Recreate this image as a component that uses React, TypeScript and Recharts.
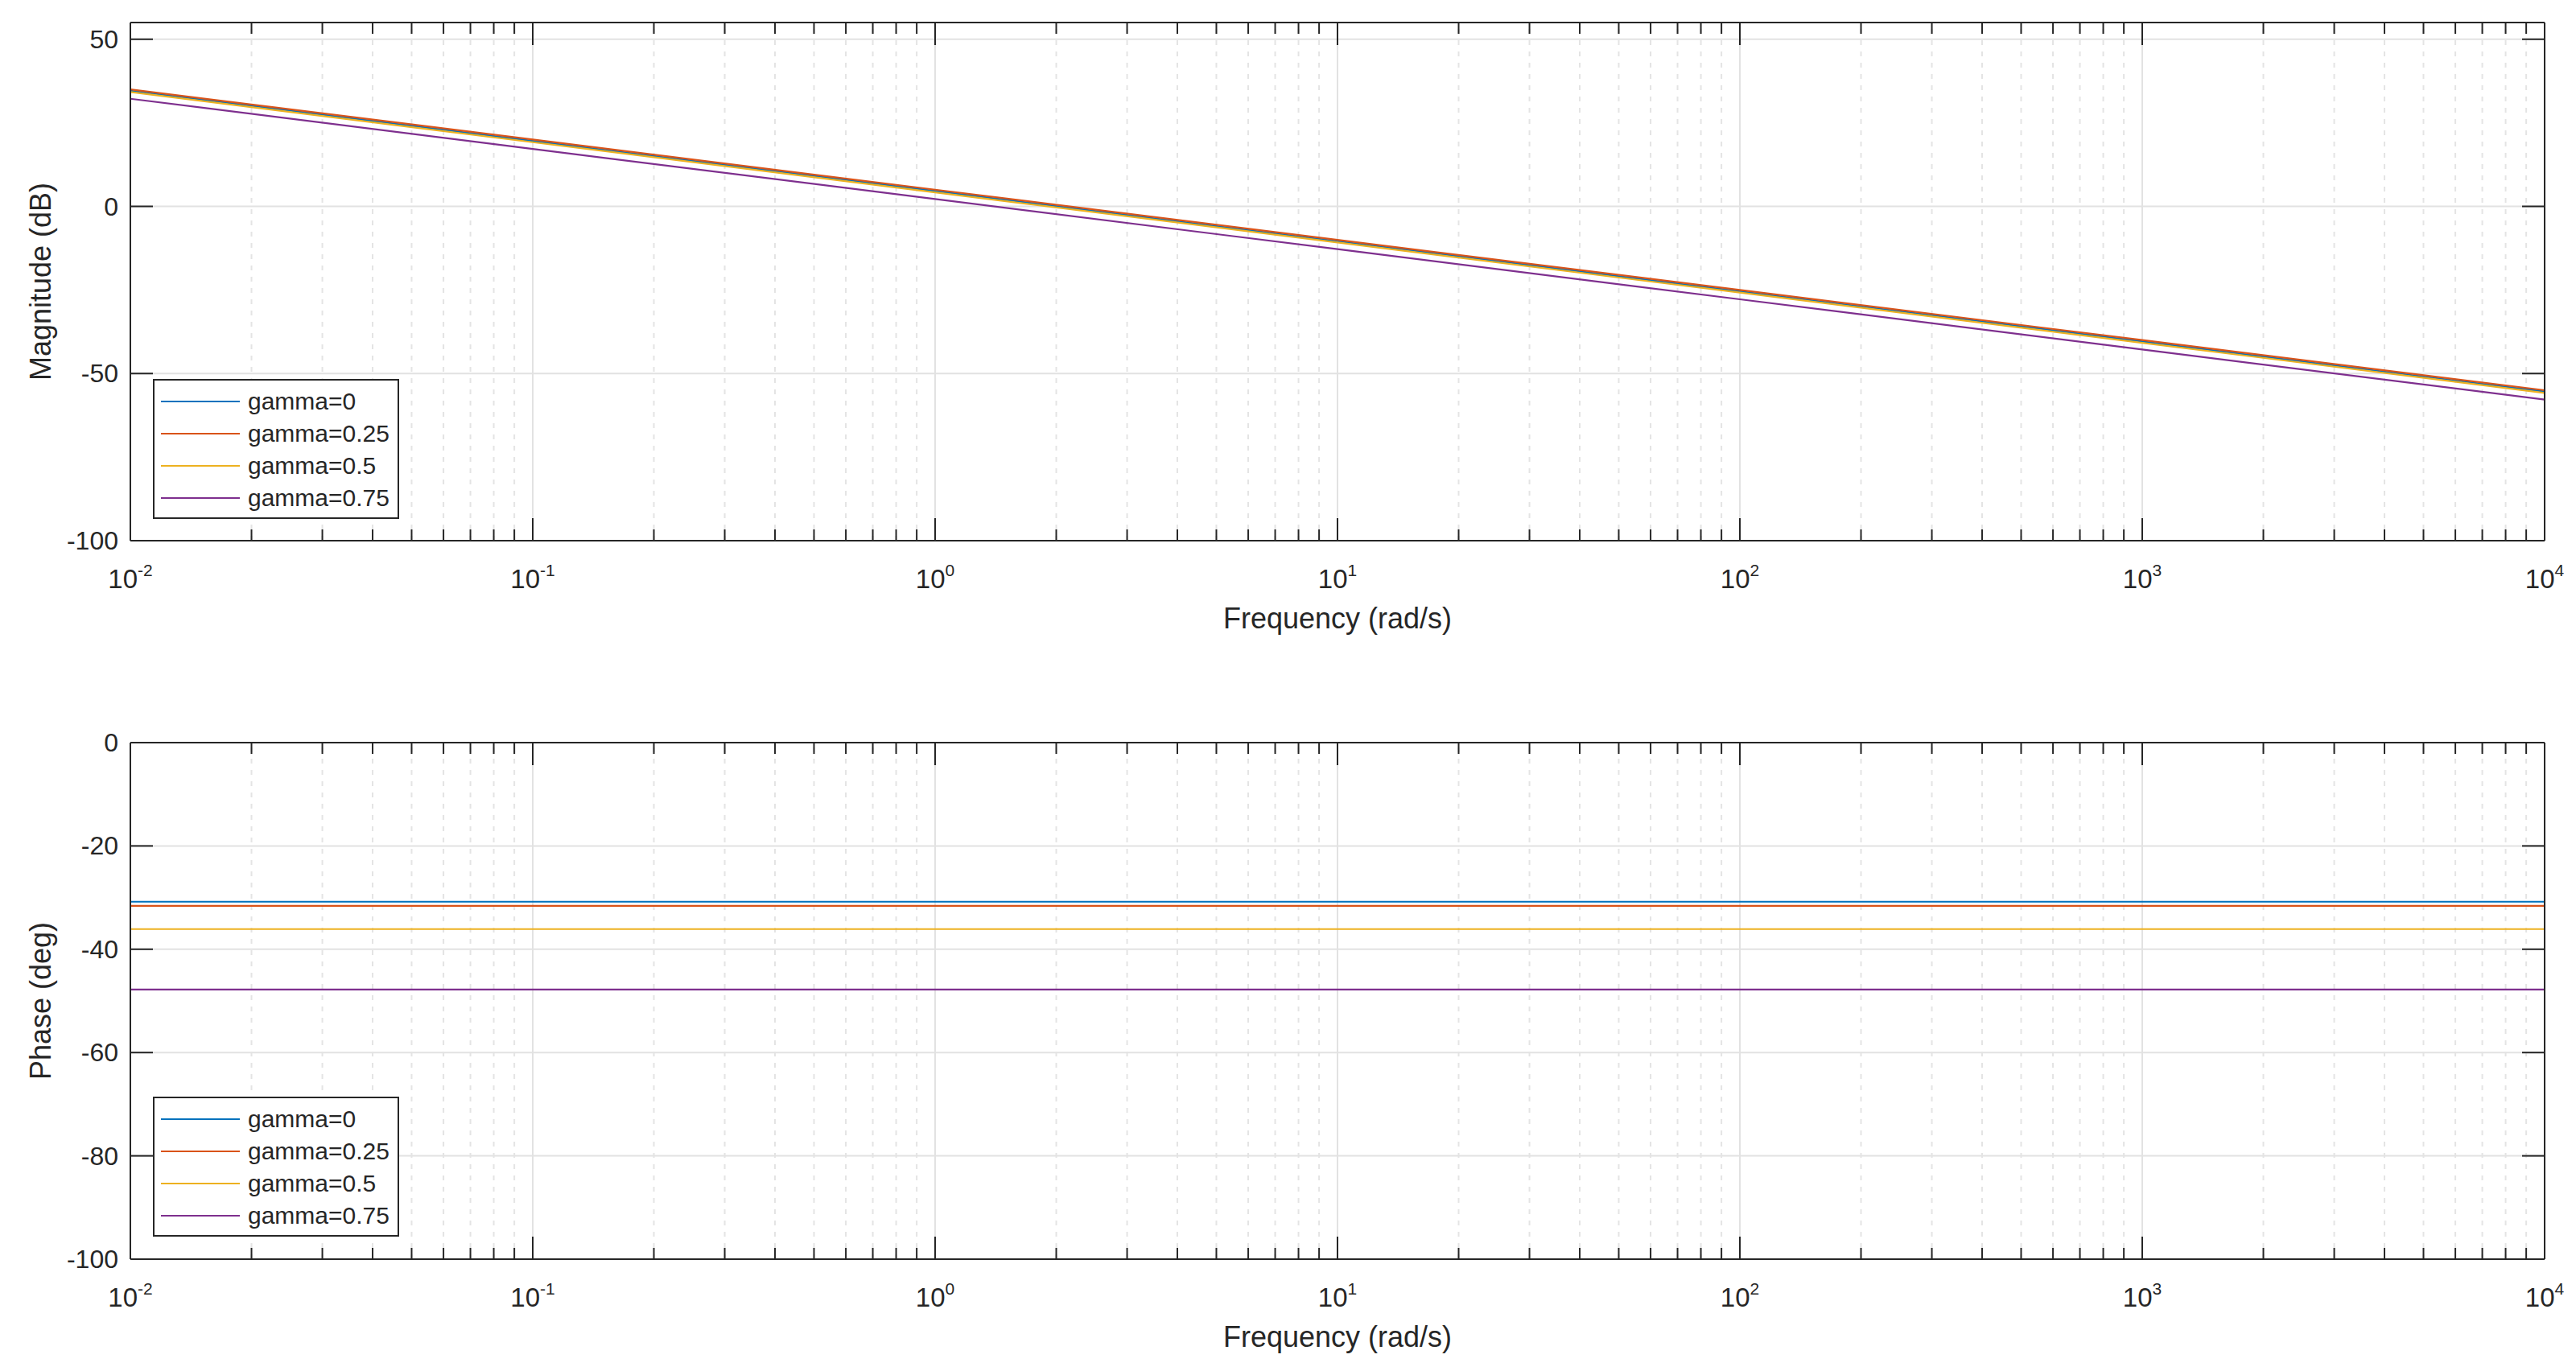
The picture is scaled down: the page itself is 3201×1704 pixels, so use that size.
import { LineChart, Line, XAxis, YAxis, CartesianGrid, ReferenceLine, Legend } from "recharts";

const FONT = '"Liberation Sans", Arial, Helvetica, sans-serif';
const INK = "#262626";

// frequency points (rad/s), one per decade
const freqs = [0.01, 0.1, 1, 10, 100, 1000, 10000];

const seriesKeys = ["g0", "g025", "g05", "g075"];
const seriesNames = ["gamma=0", "gamma=0.25", "gamma=0.5", "gamma=0.75"];
const seriesColors = ["#0072BD", "#D95319", "#EDB120", "#7E2F8E"];

// magnitude (dB)
const magGamma0 = [34.6, 19.6, 4.6, -10.4, -25.4, -40.4, -55.4];
const magGamma025 = [35.0, 20.0, 5.0, -10.0, -25.0, -40.0, -55.0];
const magGamma05 = [34.2, 19.2, 4.2, -10.8, -25.8, -40.8, -55.8];
const magGamma075 = [32.2, 17.2, 2.2, -12.8, -27.8, -42.8, -57.8];

// phase (deg)
const phaseGamma0 = [-30.8, -30.8, -30.8, -30.8, -30.8, -30.8, -30.8];
const phaseGamma025 = [-31.6, -31.6, -31.6, -31.6, -31.6, -31.6, -31.6];
const phaseGamma05 = [-36.1, -36.1, -36.1, -36.1, -36.1, -36.1, -36.1];
const phaseGamma075 = [-47.8, -47.8, -47.8, -47.8, -47.8, -47.8, -47.8];

const magTicks = [-100, -50, 0, 50];
const phaseTicks = [-100, -80, -60, -40, -20, 0];
const decadeTicks = [0.01, 0.1, 1, 10, 100, 1000, 10000];
const minorSteps = [2, 3, 4, 5, 6, 7, 8, 9];

const minorTicks = decadeTicks.slice(0, -1).flatMap((d) => minorSteps.map((m) => d * m));
const allXTicks = [...decadeTicks, ...minorTicks].sort((a, b) => a - b);

const build = (cols: number[][]) =>
  freqs.map((f, i) => {
    const row: any = { f };
    seriesKeys.forEach((k, j) => (row[k] = cols[j][i]));
    return row;
  });

const magData = build([magGamma0, magGamma025, magGamma05, magGamma075]);
const phaseData = build([phaseGamma0, phaseGamma025, phaseGamma05, phaseGamma075]);

const isDecade = (v: number) => Math.abs(Math.log10(v) - Math.round(Math.log10(v))) < 1e-6;

const BottomTick = (props: any) => {
  const { x, y, payload } = props;
  const major = isDecade(payload.value);
  const len = major ? 28 : 14;
  return (
    <g>
      <line x1={x} x2={x} y1={y} y2={y - len} stroke={INK} strokeWidth={2} />
      {major && (
        <text x={x} y={y + 59} textAnchor="middle" fontSize={33} fill={INK} fontFamily={FONT}>
          <tspan>10</tspan>
          <tspan dy={-15} fontSize={21}>
            {Math.round(Math.log10(payload.value))}
          </tspan>
        </text>
      )}
    </g>
  );
};

const TopTick = (props: any) => {
  const { x, y, payload } = props;
  const len = isDecade(payload.value) ? 28 : 14;
  return <line x1={x} x2={x} y1={y} y2={y + len} stroke={INK} strokeWidth={2} />;
};

const LeftTick = (props: any) => {
  const { x, y, payload } = props;
  return (
    <g>
      <line x1={x} x2={x + 28} y1={y} y2={y} stroke={INK} strokeWidth={2} />
      <text x={x - 15} y={y} textAnchor="end" dominantBaseline="central" fontSize={32} fill={INK} fontFamily={FONT}>
        {payload.value}
      </text>
    </g>
  );
};

const RightTick = (props: any) => {
  const { x, y } = props;
  return <line x1={x} x2={x - 28} y1={y} y2={y} stroke={INK} strokeWidth={2} />;
};

const yLabel = (text: string) => (props: any) => {
  const { viewBox } = props;
  const cx = viewBox.x + viewBox.width - 112;
  const cy = viewBox.y + viewBox.height / 2;
  return (
    <text
      x={cx}
      y={cy}
      transform={`rotate(-90 ${cx} ${cy})`}
      textAnchor="middle"
      dominantBaseline="central"
      fontSize={36}
      fill={INK}
      fontFamily={FONT}
    >
      {text}
    </text>
  );
};

const LegendBox = (props: any) => {
  const { payload } = props;
  return (
    <div
      style={{
        width: 306,
        height: 174,
        border: `2px solid ${INK}`,
        background: "#fff",
        boxSizing: "border-box",
        position: "relative",
        fontFamily: FONT,
        fontSize: 30,
        color: INK,
      }}
    >
      {(payload || []).map((p: any, i: number) => (
        <div
          key={p.value}
          style={{ position: "absolute", left: 0, top: 6 + i * 40, height: 40, display: "flex", alignItems: "center" }}
        >
          <div style={{ marginLeft: 8, width: 98, height: 0, borderTop: `2px solid ${p.color}` }} />
          <span style={{ marginLeft: 10, whiteSpace: "nowrap", lineHeight: "40px" }}>{p.value}</span>
        </div>
      ))}
    </div>
  );
};

interface PanelProps {
  data: any[];
  yDomain: [number, number];
  yTicks: number[];
  yTitle: string;
  height: number;
  top: number;
  marginTop: number;
  marginBottom: number;
  legendTop: number;
}

function BodePanel({ data, yDomain, yTicks, yTitle, height, top, marginTop, marginBottom, legendTop }: PanelProps) {
  return (
    <div style={{ position: "absolute", left: 0, top, width: 3201, height }}>
      <LineChart
        width={3201}
        height={height}
        data={data}
        margin={{ top: marginTop, right: 38, bottom: marginBottom, left: 82 }}
      >
        <CartesianGrid vertical={false} stroke="#e2e2e2" strokeWidth={2} />
        {minorTicks.map((v) => (
          <ReferenceLine key={"m" + v} x={v} stroke="#e4e4e4" strokeWidth={2} strokeDasharray="6 8" />
        ))}
        {decadeTicks.slice(1, -1).map((v) => (
          <ReferenceLine key={"d" + v} x={v} stroke="#e2e2e2" strokeWidth={2} />
        ))}
        <XAxis
          dataKey="f"
          type="number"
          scale="log"
          domain={[0.01, 10000]}
          allowDataOverflow
          ticks={allXTicks}
          interval={0}
          height={1}
          tickSize={0}
          tickMargin={0}
          tickLine={false}
          tick={<BottomTick />}
          axisLine={{ stroke: INK, strokeWidth: 2 }}
          label={{ value: "Frequency (rad/s)", position: "bottom", offset: 82, fontSize: 36, fill: INK, fontFamily: FONT }}
        />
        <XAxis
          xAxisId="t"
          orientation="top"
          dataKey="f"
          type="number"
          scale="log"
          domain={[0.01, 10000]}
          allowDataOverflow
          ticks={allXTicks}
          interval={0}
          height={1}
          tickSize={0}
          tickMargin={0}
          tickLine={false}
          tick={<TopTick />}
          axisLine={{ stroke: INK, strokeWidth: 2 }}
        />
        <YAxis
          type="number"
          domain={yDomain}
          allowDataOverflow
          ticks={yTicks}
          interval={0}
          width={80}
          tickSize={0}
          tickMargin={0}
          tickLine={false}
          tick={<LeftTick />}
          axisLine={{ stroke: INK, strokeWidth: 2 }}
          label={{ content: yLabel(yTitle) }}
        />
        <YAxis
          yAxisId="r"
          orientation="right"
          type="number"
          domain={yDomain}
          allowDataOverflow
          ticks={yTicks}
          interval={0}
          width={1}
          tickSize={0}
          tickMargin={0}
          tickLine={false}
          tick={<RightTick />}
          axisLine={{ stroke: INK, strokeWidth: 2 }}
        />
        {seriesKeys.map((k, i) => (
          <Line
            key={k}
            dataKey={k}
            name={seriesNames[i]}
            stroke={seriesColors[i]}
            strokeWidth={2.2}
            dot={false}
            type="linear"
            isAnimationActive={false}
          />
        ))}
        <Legend
          layout="vertical"
          align="center"
          verticalAlign="middle"
          wrapperStyle={{ left: 190, top: legendTop, width: 306, height: 174 }}
          content={<LegendBox />}
        />
      </LineChart>
    </div>
  );
}

export default function App() {
  return (
    <div style={{ position: "absolute", left: 0, top: 0, width: 3201, height: 1704, background: "#fff" }}>
      <BodePanel
        data={magData}
        yDomain={[-100, 55]}
        yTicks={magTicks}
        yTitle="Magnitude (dB)"
        height={880}
        top={0}
        marginTop={27}
        marginBottom={207}
        legendTop={471}
      />
      <BodePanel
        data={phaseData}
        yDomain={[-100, 0]}
        yTicks={phaseTicks}
        yTitle="Phase (deg)"
        height={824}
        top={880}
        marginTop={42}
        marginBottom={138}
        legendTop={483}
      />
    </div>
  );
}
